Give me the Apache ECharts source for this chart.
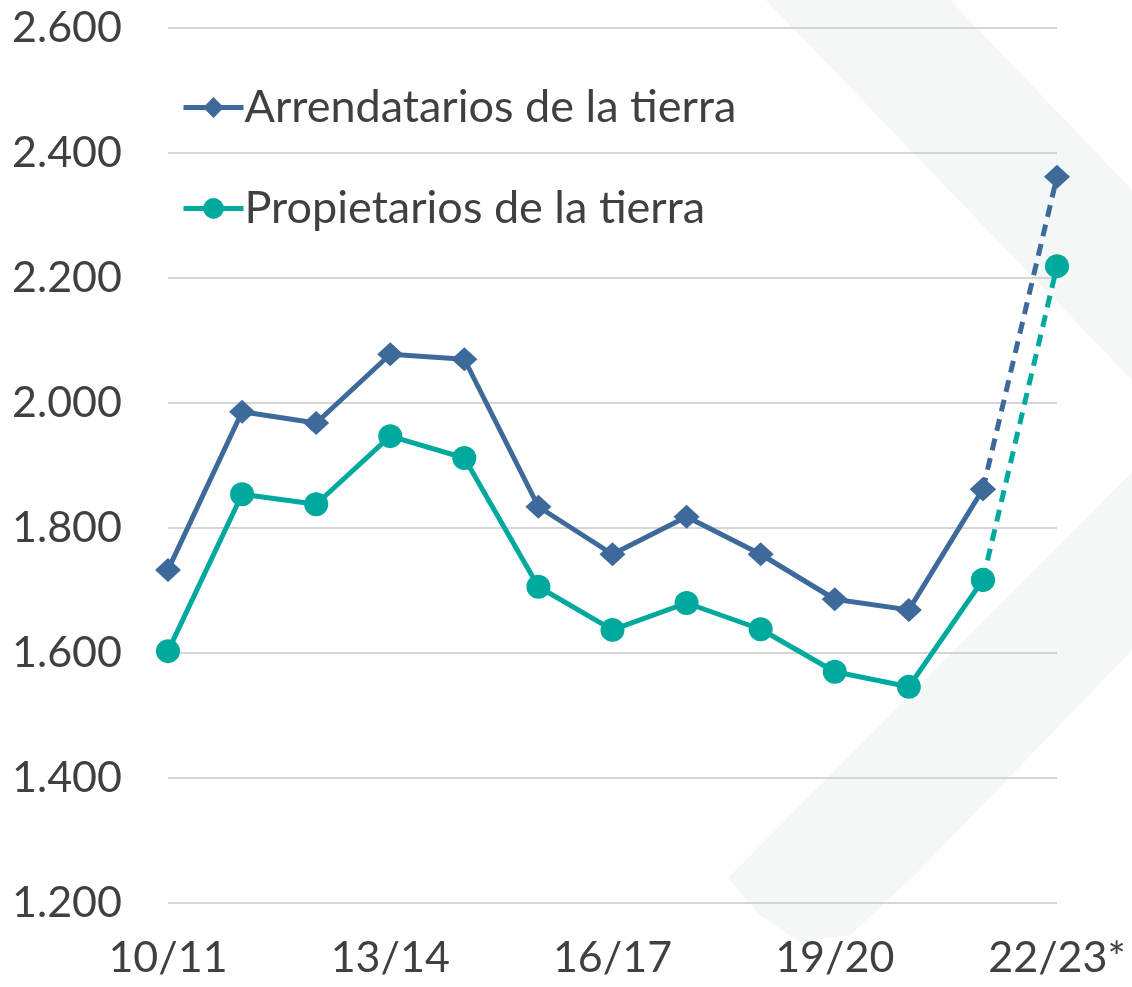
<!DOCTYPE html>
<html>
<head>
<meta charset="utf-8">
<script src="https://cdn.jsdelivr.net/npm/echarts@6/dist/echarts.min.js"></script>
<style>
  html, body { margin: 0; padding: 0; background: #fff; }
  #chart { width: 1132px; height: 987px; }
</style>
</head>
<body>
<div id="chart"></div>
<script>
// campañas
const campaigns = ['10/11', '11/12', '12/13', '13/14', '14/15', '15/16', '16/17',
  '17/18', '18/19', '19/20', '20/21', '21/22', '22/23*'];
// arrendatarios de la tierra
const tenants = [1733, 1986, 1968, 2078, 2070, 1834, 1758, 1818, 1758, 1686, 1669, 1862, 2362];
// propietarios de la tierra
const owners = [1603, 1854, 1838, 1947, 1912, 1706, 1637, 1680, 1638, 1570, 1546, 1717, 2219];

const BLUE = '#3e6a9b';
const TEAL = '#00a99d';
const FONT = 'Lato';

// last point is a projection -> dashed segment
const lastIdx = campaigns.length - 1;
const solid = (arr) => arr.map((v, i) => (i < lastIdx ? v : null));
const dashed = (arr) => arr.map((v, i) => (i >= lastIdx - 1 ? v : null));
const fmt = (v) => String(v).replace(/\B(?=(\d{3})+(?!\d))/g, '.');

const chart = echarts.init(document.getElementById('chart'));

const option = {
  backgroundColor: '#fff',
  animation: false,
  // faint watermark behind the plot
  graphic: [
    {
      type: 'polygon', z: -10, silent: true,
      shape: { points: [[766, 0], [950, 0], [1132, 190], [1132, 380]] },
      style: { fill: '#f3f7f5' },
    },
    {
      type: 'polygon', z: -10, silent: true,
      shape: { points: [[728, 878], [1132, 472], [1132, 650], [915, 875], [850, 935], [800, 942], [760, 915]] },
      style: { fill: '#f3f7f5' },
    },
  ],
  grid: { left: 168, right: 75, top: 28, bottom: 84 },
  legend: {
    orient: 'vertical',
    left: 176,
    top: 80,
    itemWidth: 60,
    itemHeight: 26,
    itemGap: 56,
    data: ['Arrendatarios de la tierra', 'Propietarios de la tierra'],
    lineStyle: { width: 5 },
    textStyle: { fontFamily: FONT, fontSize: 45, color: '#404040', padding: [0, 0, 0, -4] },
  },
  xAxis: {
    type: 'category',
    data: campaigns,
    boundaryGap: false,
    axisLine: { show: false },
    axisTick: { show: false },
    axisLabel: {
      interval: 2,
      margin: 34,
      fontFamily: FONT,
      fontSize: 43,
      color: '#404040',
    },
  },
  yAxis: {
    type: 'value',
    min: 1200,
    max: 2600,
    interval: 200,
    axisLine: { show: false },
    axisTick: { show: false },
    axisLabel: {
      margin: 46,
      fontFamily: FONT,
      fontSize: 43,
      color: '#404040',
      formatter: fmt,
    },
    splitLine: { lineStyle: { color: '#c9c9c9', width: 1.5 } },
  },
  series: [
    {
      name: 'Arrendatarios de la tierra',
      type: 'line',
      data: solid(tenants),
      symbol: 'diamond',
      symbolSize: [26, 24],
      color: BLUE,
      lineStyle: { width: 5, color: BLUE },
      itemStyle: { color: BLUE },
    },
    {
      name: 'Propietarios de la tierra',
      type: 'line',
      data: solid(owners),
      symbol: 'circle',
      symbolSize: 24,
      color: TEAL,
      lineStyle: { width: 5, color: TEAL },
      itemStyle: { color: TEAL },
    },
    {
      name: 'Arrendatarios proyección',
      type: 'line',
      data: dashed(tenants),
      symbol: 'diamond',
      symbolSize: [26, 24],
      lineStyle: { width: 5, color: BLUE, type: [12, 8] },
      itemStyle: { color: BLUE },
    },
    {
      name: 'Propietarios proyección',
      type: 'line',
      data: dashed(owners),
      symbol: 'circle',
      symbolSize: 24,
      lineStyle: { width: 5, color: TEAL, type: [12, 8] },
      itemStyle: { color: TEAL },
    },
  ],
};

chart.setOption(option);
</script>
</body>
</html>
